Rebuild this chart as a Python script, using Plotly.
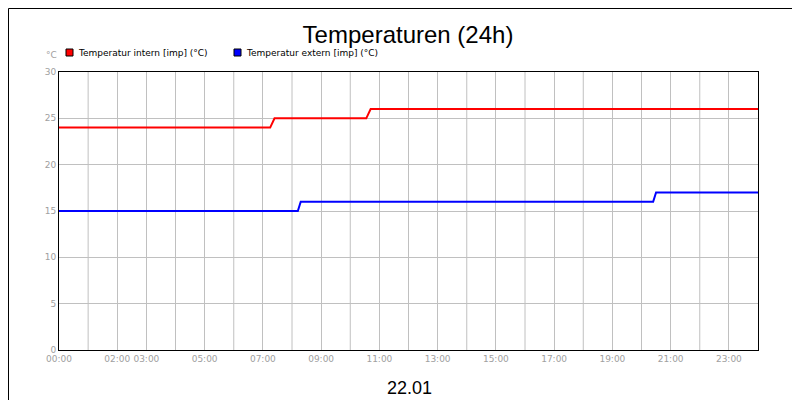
import plotly.graph_objects as go

# time in hours, values in °C
intern_t = [0, 7.25, 7.4, 10.55, 10.7, 24]
intern_v = [24, 24, 25, 25, 26, 26]
extern_t = [0, 8.2, 8.3, 20.4, 20.5, 24]
extern_v = [15, 15, 16, 16, 17, 17]
tick_vals = [0, 2, 3, 5, 7, 9, 11, 13, 15, 17, 19, 21, 23]
tick_text = ["00:00", "02:00", "03:00", "05:00", "07:00", "09:00", "11:00",
             "13:00", "15:00", "17:00", "19:00", "21:00", "23:00"]

fig = go.Figure()
fig.add_trace(go.Scatter(x=intern_t, y=intern_v, mode="lines",
                         line=dict(color="#ff0000", width=2), showlegend=False))
fig.add_trace(go.Scatter(x=extern_t, y=extern_v, mode="lines",
                         line=dict(color="#0000ff", width=2), showlegend=False))

ax = dict(showline=True, linecolor="black", mirror=True, gridcolor="#c0c0c0",
          zeroline=False, tickfont=dict(color="#a0a0a0", size=9, family="DejaVu Sans"),
          ticks="", automargin=False)
fig.update_xaxes(range=[0, 24], tickvals=tick_vals, ticktext=tick_text, tickangle=0, **ax)
fig.update_yaxes(range=[0, 30], dtick=5, **ax)
for h in range(1, 24):
    if h not in tick_vals:
        fig.add_shape(type="line", xref="x", yref="paper", x0=h, x1=h, y0=0, y1=1,
                      line=dict(color="#c0c0c0", width=1), layer="below")

fig.update_layout(
    width=800, height=400, paper_bgcolor="white", plot_bgcolor="white",
    margin=dict(l=51, r=50, t=64, b=58, autoexpand=False),
    title=dict(text="Temperaturen (24h)", x=0.5, y=0.955, xanchor="center",
               font=dict(size=24, family="Liberation Sans", color="black")),
    font=dict(family="DejaVu Sans"),
)
for x0, color, label in [(58, "#ff0000", "Temperatur intern [imp] (°C)"),
                         (226, "#0000ff", "Temperatur extern [imp] (°C)")]:
    fig.add_shape(type="rect", xref="paper", yref="paper",
                  x0=(x0 - 51) / 699, x1=(x0 + 7 - 51) / 699,
                  y0=(342 - 48) / 278, y1=(342 - 41) / 278,
                  fillcolor=color, line=dict(color="black", width=1))
    fig.add_annotation(text=label, xref="paper", yref="paper", x=(x0 + 10 - 51) / 699,
                       y=(342 - 44.5) / 278, xanchor="left", yanchor="middle",
                       showarrow=False, font=dict(size=9, color="black"))
fig.add_annotation(text="°C", xref="paper", yref="paper", x=(36 - 51) / 699,
                   y=(342 - 47) / 278, xanchor="left", yanchor="middle",
                   showarrow=False, font=dict(size=9, color="#a0a0a0"))
fig.add_annotation(text="22.01", xref="paper", yref="paper", x=(401 - 51) / 699,
                   y=(342 - 380) / 278, xanchor="center", yanchor="middle",
                   showarrow=False, font=dict(size=18, color="black", family="Liberation Sans"))
fig.add_shape(type="rect", xref="paper", yref="paper",
              x0=-50.5 / 699, x1=(799.5 - 51) / 699, y0=(342 - 399.5) / 278, y1=(342 - 0.5) / 278,
              line=dict(color="black", width=1))
fig.write_html("out.html")
